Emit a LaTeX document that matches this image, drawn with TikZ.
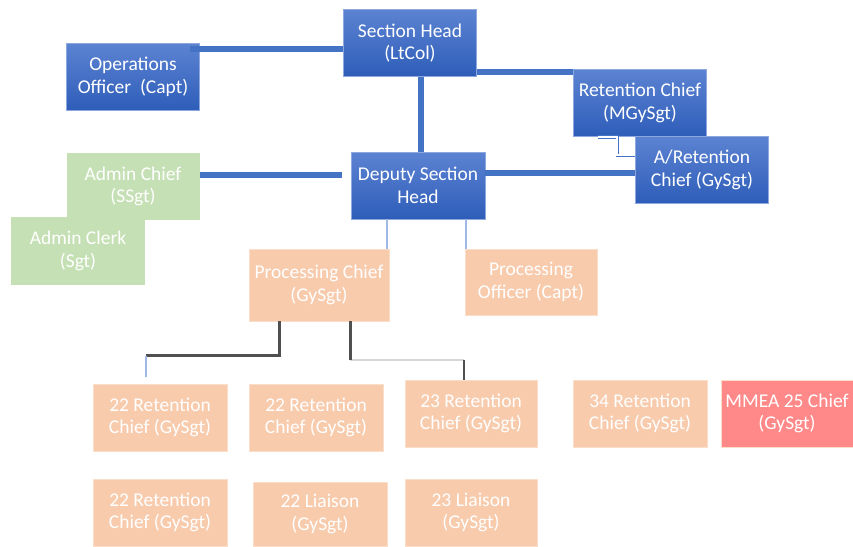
\documentclass[tikz,border=0pt]{standalone}
\usepackage{fontspec}
\setmainfont{Carlito}
\usepackage{xcolor}
\definecolor{LeadTop}{RGB}{92,131,210}
\definecolor{LeadBottom}{RGB}{46,93,185}
\definecolor{LeadEdge}{RGB}{140,168,222}
\definecolor{LinkBlue}{RGB}{68,114,196}
\definecolor{PaleBlue}{RGB}{160,184,230}
\definecolor{AdminGreen}{RGB}{197,224,180}
\definecolor{ProcPeach}{RGB}{248,203,173}
\definecolor{PeachEdge}{RGB}{251,222,202}
\definecolor{MmeaRed}{RGB}{255,137,137}
\definecolor{DarkLine}{RGB}{80,80,80}
\definecolor{LightLine}{RGB}{215,215,215}
\usetikzlibrary{positioning,calc}

\begin{document}
\begin{tikzpicture}[x=1pt, y=-1pt,
    box/.style={rectangle, inner sep=0pt, minimum width=133pt, minimum height=67pt,
              align=center, text=white, font=\fontsize{19.5}{22.5}\selectfont},
    lead/.style={box, draw=LeadEdge, line width=0.8pt, top color=LeadTop, bottom color=LeadBottom},
    admin/.style={box, fill=AdminGreen},
    proc/.style={box, fill=ProcPeach, draw=PeachEdge, line width=0.6pt},
    mmea/.style={box, fill=MmeaRed, draw=PeachEdge, line width=0.6pt},
    link/.style={draw=LinkBlue, line width=6.5pt},
    palelink/.style={draw=PaleBlue, line width=2pt},
    bracket/.style={draw=LinkBlue, line width=0.7pt, double=white, double distance=1.8pt},
    darklink/.style={draw=DarkLine, line width=2.6pt},
    lightlink/.style={draw=LightLine, line width=1.6pt}
]
    \useasboundingbox (0,0) rectangle (853,546);

    % command staff
    \node[lead] (sec) at (410,43) {Section Head\\(LtCol)};
    \node[lead] (ops) at (133,77) {Operations\\Officer~ (Capt)};
    \node[lead] (ret) at (640,103) {Retention Chief\\(MGySgt)};
    \node[lead] (aret) at (702,170) {A/Retention\\Chief (GySgt)};
    \node[lead, minimum width=134pt] (dep) at (418,185.5) {Deputy Section\\Head};

    % admin
    \node[admin] (adm) at (133,186.5) {Admin Chief\\(SSgt)};
    \node[admin, minimum width=134pt, minimum height=68pt] (clk) at (78,251) {Admin Clerk\\(Sgt)};

    % processing
    \node[proc, minimum width=140pt, minimum height=72pt] (pch) at (319,285) {Processing Chief\\(GySgt)};
    \node[proc, minimum width=132pt, minimum height=66pt] (pof) at (531,282) {Processing\\Officer (Capt)};

    \node[proc, minimum width=134pt] (rc1) at (160,417.5) {22 Retention\\Chief (GySgt)};
    \node[proc, minimum width=134pt] (rc2) at (316,417.5) {22 Retention\\Chief (GySgt)};
    \node[proc, minimum width=132pt] (rc3) at (471,413.5) {23 Retention\\Chief (GySgt)};
    \node[proc, minimum width=134pt] (rc4) at (640,413.5) {34 Retention\\Chief (GySgt)};
    \node[mmea, minimum width=132pt] (mmea) at (787,413.5) {MMEA 25 Chief\\(GySgt)};

    \node[proc, minimum width=134pt] (rc5) at (160,512.5) {22 Retention\\Chief (GySgt)};
    \node[proc, minimum width=134pt, minimum height=64pt] (lia1) at (320,514) {22 Liaison\\(GySgt)};
    \node[proc, minimum width=132pt] (lia2) at (471,512.5) {23 Liaison\\(GySgt)};

    % connectors
    \coordinate (opsR) at ([xshift=-10pt,yshift=-6pt]ops.north east);
    \draw[link] (opsR) -- (opsR -| sec.west);
    \coordinate (retL) at ([yshift=-3pt]ret.north west);
    \draw[link] (retL -| sec.east) -- (retL);
    \coordinate (depT) at ([xshift=3pt]dep.north);
    \draw[link] (depT |- sec.south) -- (depT);
    \coordinate (admR) at ([yshift=-22pt]adm.north east);
    \draw[link, shorten >=9pt] (admR) -- (admR -| dep.west);
    \coordinate (aretL) at ([yshift=-37pt]aret.north west);
    \draw[link] (aretL -| dep.east) -- (aretL);
    \coordinate (aretB) at ([yshift=-19pt]aret.north west);
    \draw[bracket] ([xshift=-42pt]ret.south) -| ([xshift=-18pt]aretB) -- (aretB);

    \coordinate (pchT) at ([xshift=-2pt]pch.north east);
    \draw[palelink] (pchT |- dep.south) -- (pchT);
    \coordinate (pofT) at ([xshift=1pt]pof.north west);
    \draw[palelink] (pofT |- dep.south) -- (pofT);

    \coordinate (pchA) at ([xshift=31pt]pch.south west);
    \coordinate (rcA) at ([xshift=53pt,yshift=7pt]rc1.north west);
    \coordinate (midA) at ($(pch.south)!0.55!(rc1.north)$);
    \draw[darklink] (pchA) |- (midA -| rcA);
    \draw[palelink] (midA -| rcA) -- (rcA);

    \coordinate (pchB) at ([xshift=-39pt]pch.south east);
    \coordinate (rcB) at ([xshift=59pt]rc3.north west);
    \coordinate (midB) at ($(pch.south)!0.66!(rc3.north)$);
    \draw[lightlink] (midB -| pchB) -- (midB -| rcB);
    \draw[darklink] (pchB) -- (midB -| pchB);
    \draw[darklink, line width=2pt] (midB -| rcB) -- (rcB);
\end{tikzpicture}
\end{document}
